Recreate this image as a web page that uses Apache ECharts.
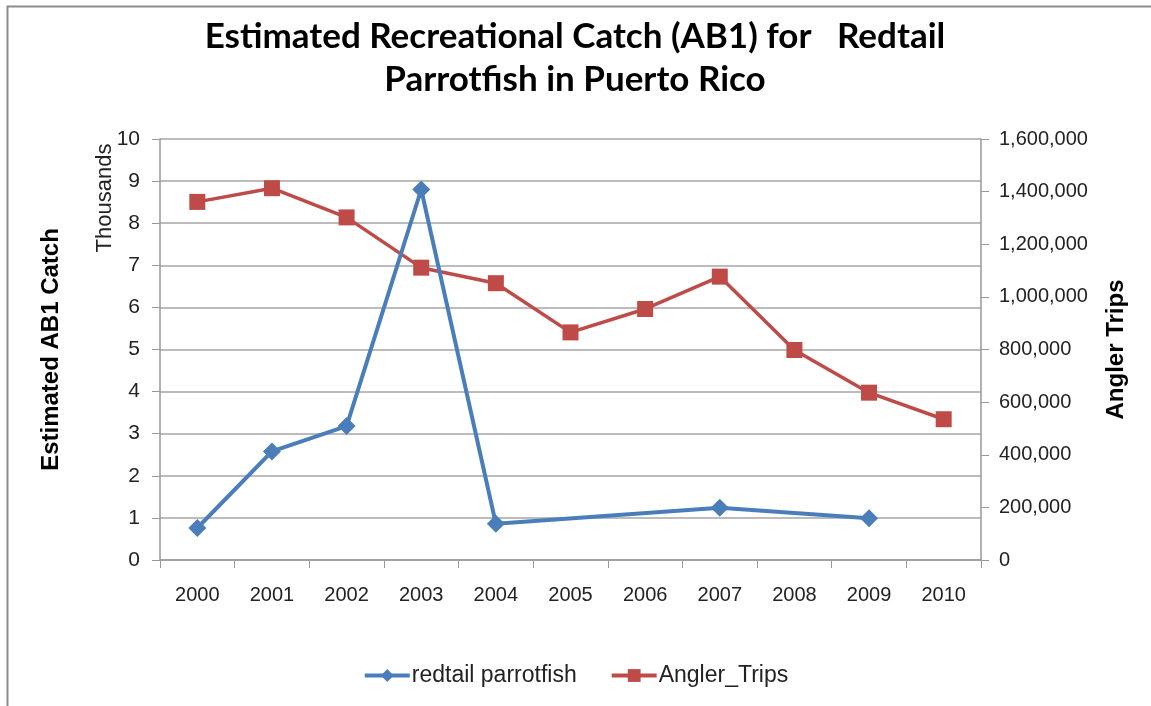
<!DOCTYPE html>
<html>
<head>
<meta charset="utf-8">
<script src="https://cdn.jsdelivr.net/npm/echarts@6/dist/echarts.min.js"></script>
<style>
  html, body { margin: 0; padding: 0; background: #fff; }
  #chart { width: 1151px; height: 706px; }
</style>
</head>
<body>
<div id="chart"></div>
<script>
// data
var years = ['2000', '2001', '2002', '2003', '2004', '2005', '2006', '2007', '2008', '2009', '2010'];
// catch, thousands (gaps where no estimate)
var parrotfish = [0.76, 2.58, 3.18, 8.8, 0.86, null, null, 1.24, null, 0.99, null];
var anglerTrips = [1361000, 1413000, 1302000, 1111000, 1052000, 865000, 954000, 1077000, 798000, 636000, 535000];

var font = '"Liberation Sans", Arial, sans-serif';
var txt = '#222';

var myChart = echarts.init(document.getElementById('chart'));
myChart.setOption({
    backgroundColor: '#fff',
    animation: false,
    title: {
        text: 'Estimated Recreational Catch (AB1) for   Redtail\nParrotfish in Puerto Rico',
        left: 570,
        textAlign: 'center',
        top: 10,
        textStyle: { fontFamily: 'Lato, ' + font, fontWeight: 'bold', fontSize: 35, lineHeight: 43, color: '#000' }
    },
    graphic: [
        {   // outer chart border
            type: 'rect', left: 5, top: 4, z: -1,
            shape: { width: 1200, height: 800 },
            style: { fill: 'none', stroke: '#8c8c8c', lineWidth: 2 }
        },
        {
            type: 'text', x: 105, y: 198, rotation: Math.PI / 2,
            style: { text: 'Thousands', fontFamily: font, fontSize: 22, fill: txt, align: 'center', verticalAlign: 'middle' }
        }
    ],
    legend: {
        left: 'center',
        top: 659,
        itemWidth: 45,
        itemHeight: 16,
        itemGap: 33,
        textStyle: { fontFamily: font, fontSize: 23, color: txt, padding: [0, 0, 0, -3] },
        lineStyle: { width: 4 },
        data: ['redtail parrotfish', 'Angler_Trips']
    },
    grid: { left: 160, right: 170, top: 139, bottom: 146, containLabel: false },
    xAxis: {
        type: 'category',
        data: years,
        boundaryGap: true,
        axisLine: { lineStyle: { color: '#999', width: 1.5 } },
        axisTick: { show: true, length: 8, lineStyle: { color: '#999' } },
        axisLabel: { margin: 25, fontFamily: font, fontSize: 20, color: txt }
    },
    yAxis: [
        {
            type: 'value', min: 0, max: 10, interval: 1,
            name: 'Estimated AB1 Catch',
            nameLocation: 'middle',
            nameGap: 97,
            nameTextStyle: { fontFamily: font, fontWeight: 'bold', fontSize: 24, color: '#000' },
            axisLine: { show: true, lineStyle: { color: '#999', width: 1.5 } },
            axisTick: { show: true, length: 8, lineStyle: { color: '#999' } },
            axisLabel: { margin: 20, fontFamily: font, fontSize: 21, color: txt },
            splitLine: { show: true, lineStyle: { color: '#a6a6a6', width: 1.5 } }
        },
        {
            type: 'value', min: 0, max: 1600000, interval: 200000,
            name: 'Angler Trips',
            nameLocation: 'middle',
            nameGap: 123,
            nameRotate: 90,
            nameTextStyle: { fontFamily: font, fontWeight: 'bold', fontSize: 24, color: '#000' },
            axisLine: { show: true, lineStyle: { color: '#999', width: 1.5 } },
            axisTick: { show: true, length: 8, lineStyle: { color: '#999' } },
            axisLabel: {
                margin: 18, fontFamily: font, fontSize: 20, color: txt,
                formatter: function (v) { return v.toLocaleString('en-US'); }
            },
            splitLine: { show: false }
        }
    ],
    series: [
        {
            name: 'redtail parrotfish',
            type: 'line',
            yAxisIndex: 0,
            data: parrotfish,
            connectNulls: true,
            symbol: 'diamond',
            symbolSize: 18,
            itemStyle: { color: '#4a7ebb' },
            lineStyle: { color: '#4a7ebb', width: 4 },
            z: 3
        },
        {
            name: 'Angler_Trips',
            type: 'line',
            yAxisIndex: 1,
            data: anglerTrips,
            symbol: 'rect',
            symbolSize: 16,
            itemStyle: { color: '#be4b48' },
            lineStyle: { color: '#be4b48', width: 3.5 },
            z: 2
        }
    ]
});
</script>
</body>
</html>
